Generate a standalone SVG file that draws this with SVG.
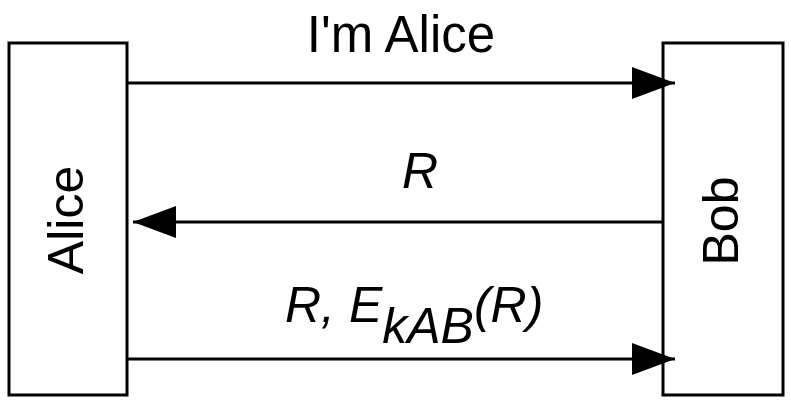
<svg xmlns="http://www.w3.org/2000/svg" width="791" height="407" viewBox="0 0 791 407">
<style>
.box{fill:#fff;stroke:#000;stroke-width:3}
.ln{stroke:#000;stroke-width:3;fill:none}
text{font-family:"Liberation Sans",Arial,sans-serif;font-size:50px;fill:#000}
.it{font-style:italic}
</style>
<defs>
<marker id="ah" viewBox="0 0 43 32" refX="43" refY="16" markerWidth="43" markerHeight="32" markerUnits="userSpaceOnUse" orient="auto">
<path d="M0,0 L43,16 L0,32 Z" fill="#000"/>
</marker>
</defs>
<rect width="791" height="407" fill="#fff"/>
<g id="alice">
<rect class="box" x="9" y="43" width="118" height="352"/>
<text transform="translate(83,220) rotate(-90)" text-anchor="middle">Alice</text>
</g>
<g id="bob">
<rect class="box" x="663" y="43" width="120" height="352"/>
<text transform="translate(738,221) rotate(-90)" text-anchor="middle">Bob</text>
</g>
<g id="connectors">
<line class="ln" x1="127" y1="83" x2="675" y2="83" marker-end="url(#ah)"/>
<line class="ln" x1="663" y1="222" x2="133" y2="222" marker-end="url(#ah)"/>
<line class="ln" x1="127" y1="359" x2="675" y2="359" marker-end="url(#ah)"/>
</g>
<g id="labels">
<text x="401" y="52" text-anchor="middle" style="font-size:51px">I'm Alice</text>
<text x="402" y="188" class="it">R</text>
<text x="285" y="322" class="it">R, E<tspan dy="21">kAB</tspan><tspan dy="-21">(R)</tspan></text>
</g>
</svg>
